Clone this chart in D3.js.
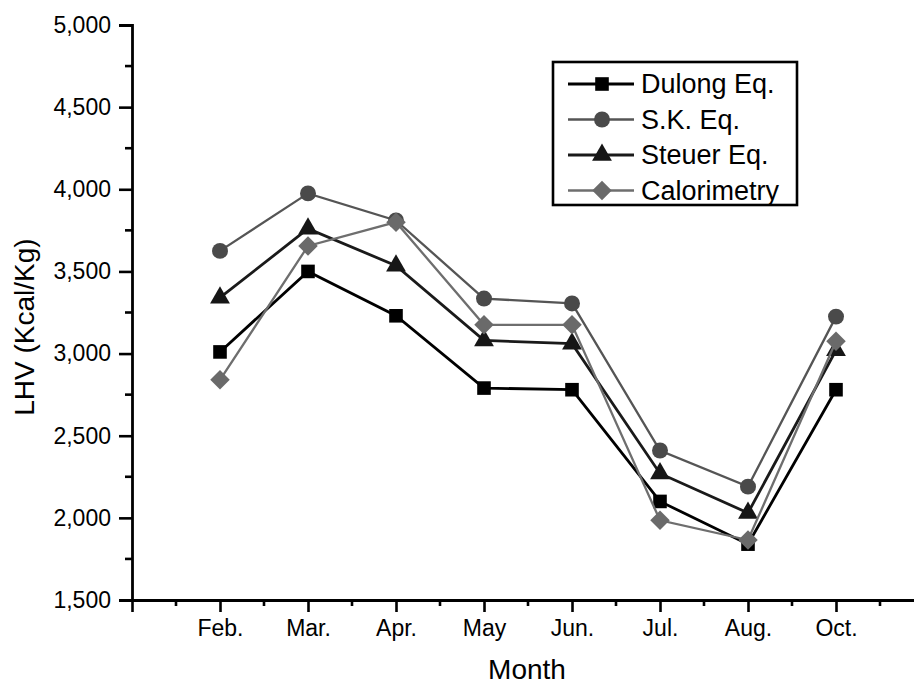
<!DOCTYPE html>
<html>
<head>
<meta charset="utf-8">
<script src="https://cdn.jsdelivr.net/npm/d3@7"></script>
<style>
  body { margin: 0; background: #fff; }
  text { font-family: "Liberation Sans", Arial, sans-serif; fill: #000; }
</style>
</head>
<body>
<svg id="chart" width="914" height="684"></svg>
<script>
// data
const months = ["Feb.", "Mar.", "Apr.", "May", "Jun.", "Jul.", "Aug.", "Oct."];
const dulong = [3010, 3500, 3230, 2790, 2780, 2100, 1840, 2780];
const skEq = [3625, 3975, 3810, 3335, 3305, 2410, 2190, 3225];
const steuer = [3340, 3760, 3535, 3080, 3060, 2270, 2030, 3020];
const calorimetry = [2840, 3655, 3800, 3175, 3175, 1985, 1865, 3075];
const yTicks = [1500, 2000, 2500, 3000, 3500, 4000, 4500, 5000];

// square turned 45 degrees, as in the original plot
const diamond = {
    draw(ctx, size) {
        let r = Math.sqrt(size / 2);
        ctx.moveTo(0, -r);
        ctx.lineTo(r, 0);
        ctx.lineTo(0, r);
        ctx.lineTo(-r, 0);
        ctx.closePath();
    }
};

const series = [
  { name: "Dulong Eq.", values: dulong, color: "#000", line: "#000", width: 2.8, symbol: d3.symbolSquare, size: 185 },
  { name: "S.K. Eq.", values: skEq, color: "#4a4a4a", line: "#555", width: 2.3, symbol: d3.symbolCircle, size: 200 },
  { name: "Steuer Eq.", values: steuer, color: "#161616", line: "#1a1a1a", width: 2.8, symbol: d3.symbolTriangle, size: 170 },
  { name: "Calorimetry", values: calorimetry, color: "#6a6a6a", line: "#6e6e6e", width: 2.3, symbol: diamond, size: 190 }
];

let svg = d3.select("#chart");

let x = d3.scaleLinear().domain([0, 9]).range([132, 924]);
let y = d3.scaleLinear().domain([1500, 5000]).range([600, 25]);

// y axis
let yAxis = d3.axisLeft(y)
    .tickValues(yTicks)
    .tickFormat(d3.format(","))
    .tickSize(13)
    .tickPadding(8);

let gy = svg.append("g").attr("transform", "translate(132,0)").call(yAxis);
gy.select(".domain").attr("stroke-width", 2.8);
gy.selectAll(".tick line").attr("stroke-width", 2.6);
gy.selectAll("text").style("font-size", "23px");

// minor y ticks
gy.selectAll(".minor")
    .data(d3.range(1750, 5000, 500))
    .enter()
    .append("line")
    .attr("x1", -7).attr("x2", 0)
    .attr("y1", d => y(d)).attr("y2", d => y(d))
    .attr("stroke", "#000").attr("stroke-width", 2.6);

// x axis
let xAxis = d3.axisBottom(x)
    .tickValues(d3.range(0, 9))
    .tickFormat(d => d === 0 ? "" : months[d - 1])
    .tickSize(12)
    .tickSizeOuter(0)
    .tickPadding(8);

let gx = svg.append("g").attr("transform", "translate(0,600)").call(xAxis);
gx.select(".domain").attr("stroke-width", 2.8);
gx.selectAll(".tick line").attr("stroke-width", 2.6);
gx.selectAll("text").style("font-size", "23px");

gx.selectAll(".minor")
    .data(d3.range(0.5, 9, 1))
    .enter()
    .append("line")
    .attr("x1", d => x(d)).attr("x2", d => x(d))
    .attr("y1", 0).attr("y2", 6)
    .attr("stroke", "#000").attr("stroke-width", 2.6);

// axis titles
svg.append("text")
    .attr("x", 527).attr("y", 679)
    .attr("text-anchor", "middle")
    .style("font-size", "28px")
    .text("Month");

svg.append("text")
    .attr("transform", "translate(34,327) rotate(-90)")
    .attr("text-anchor", "middle")
    .style("font-size", "28px")
    .text("LHV (Kcal/Kg)");

// lines and markers
let line = d3.line()
    .x((d, i) => x(i + 1))
    .y(d => y(d));

series.forEach(s => {
    let g = svg.append("g");
    g.append("path")
        .attr("d", line(s.values))
        .attr("fill", "none")
        .attr("stroke", s.line)
        .attr("stroke-width", s.width);
    g.selectAll("path.pt")
        .data(s.values)
        .enter()
        .append("path")
        .attr("class", "pt")
        .attr("d", d3.symbol().type(s.symbol).size(s.size))
        .attr("transform", (d, i) => "translate(" + x(i + 1) + "," + y(d) + ")")
        .attr("fill", s.color);
});

// legend
let legend = svg.append("g");
legend.append("rect")
    .attr("x", 553).attr("y", 62)
    .attr("width", 244).attr("height", 143)
    .attr("fill", "#fff")
    .attr("stroke", "#000")
    .attr("stroke-width", 2.6);

let rows = legend.selectAll("g.row")
    .data(series)
    .enter()
    .append("g")
    .attr("class", "row")
    .attr("transform", (d, i) => "translate(0," + (84 + i * 35.5) + ")");

rows.append("line")
    .attr("x1", 568).attr("x2", 634)
    .attr("stroke", d => d.line)
    .attr("stroke-width", d => d.width);

rows.append("path")
    .attr("d", d => d3.symbol().type(d.symbol).size(d.size)())
    .attr("transform", "translate(602,0)")
    .attr("fill", d => d.color);

rows.append("text")
    .attr("x", 641).attr("y", 9)
    .style("font-size", "27px")
    .text(d => d.name);
</script>
</body>
</html>
